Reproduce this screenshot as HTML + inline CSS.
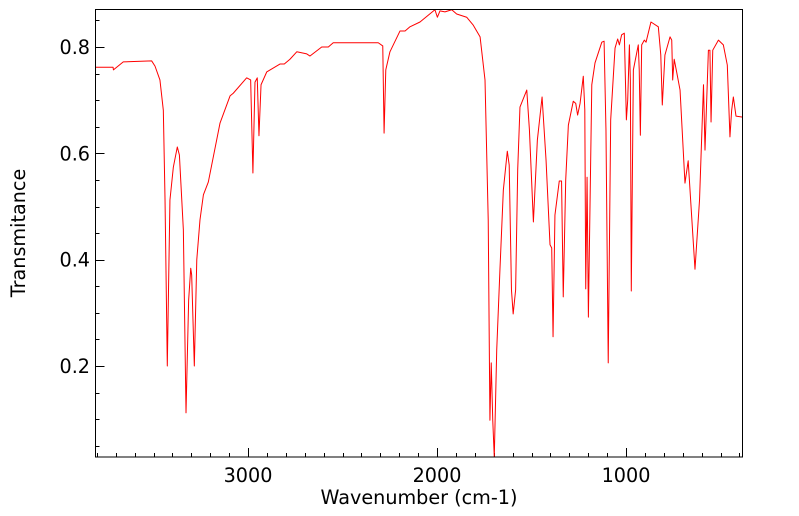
<!DOCTYPE html>
<html><head><meta charset="utf-8"><style>
html,body{margin:0;padding:0;background:#fff;}
svg{display:block;font-family:"DejaVu Sans","Liberation Sans",sans-serif;}
</style></head><body>
<svg id="chart" width="799" height="516" viewBox="0 0 799 516">
<rect x="0" y="0" width="799" height="516" fill="#fff"/>
<g id="ticks"></g>
<path id="line" fill="none" stroke="#ff0000" stroke-width="1" stroke-linejoin="round"/>
<rect x="95.5" y="9.5" width="647" height="447.5" fill="none" stroke="#000" stroke-width="1"/>
<text x="419" y="504" font-size="19.2" text-anchor="middle">Wavenumber (cm-1)</text>
<text x="0" y="0" font-size="19.2" text-anchor="middle" transform="translate(25,233) rotate(-90)">Transmitance</text>
</svg>
<script>
const wavenumbers=[3809,3714,3712,3660,3510,3492,3466,3448,3439,3427,3413,3395,3374,3363,3342,3328,3314,3303,3298,3284,3271,3254,3236,3210,3148,3095,3078,3007,2986,2974,2963,2951,2942,2931,2901,2831,2808,2778,2742,2689,2672,2610,2575,2549,2311,2287,2280,2271,2249,2196,2169,2143,2090,2011,1998,1984,1958,1922,1896,1843,1808,1772,1746,1729,1720,1713,1705,1697,1684,1667,1649,1628,1618,1606,1597,1584,1573,1561,1525,1511,1490,1469,1444,1423,1402,1393,1386,1376,1353,1341,1332,1319,1305,1279,1266,1256,1243,1226,1218,1213,1206,1199,1190,1181,1164,1128,1116,1106,1094,1081,1058,1044,1035,1023,1009,998,991,982,977,972,961,935,930,924,917,903,894,868,829,816,808,794,767,758,753,745,732,714,688,671,658,635,611,590,582,564,556,550,541,511,485,464,450,441,432,418,383];
const transmittance=[0.762,0.762,0.757,0.772,0.774,0.764,0.738,0.681,0.512,0.2,0.512,0.574,0.612,0.597,0.456,0.112,0.324,0.384,0.371,0.2,0.4,0.475,0.522,0.546,0.657,0.708,0.713,0.742,0.738,0.563,0.734,0.742,0.633,0.729,0.753,0.768,0.768,0.777,0.791,0.787,0.783,0.8,0.8,0.808,0.808,0.802,0.638,0.757,0.791,0.83,0.83,0.838,0.847,0.87,0.856,0.868,0.866,0.87,0.862,0.856,0.841,0.819,0.738,0.475,0.098,0.206,0.098,0.029,0.23,0.381,0.531,0.604,0.578,0.343,0.298,0.343,0.569,0.687,0.719,0.644,0.471,0.625,0.706,0.587,0.428,0.422,0.255,0.484,0.548,0.548,0.33,0.55,0.653,0.698,0.694,0.672,0.694,0.745,0.682,0.345,0.555,0.292,0.512,0.729,0.77,0.809,0.811,0.644,0.206,0.663,0.798,0.815,0.804,0.823,0.826,0.663,0.7,0.804,0.738,0.341,0.757,0.804,0.757,0.634,0.804,0.813,0.809,0.847,0.838,0.785,0.691,0.785,0.819,0.813,0.738,0.777,0.753,0.719,0.544,0.586,0.512,0.382,0.512,0.729,0.606,0.794,0.794,0.659,0.794,0.813,0.804,0.766,0.631,0.681,0.706,0.67,0.668];
const xTickLabels=[3000,2000,1000];
const yTickLabels=[0.2,0.4,0.6,0.8];

const NS="http://www.w3.org/2000/svg";
const L=95.5,R=742.5,T=9.5,B=457;
function xs(w){return 248+(3000-w)*0.189;}
function ys(v){return 47+(0.8-v)*531.7;}
let d="";
for(let i=0;i<wavenumbers.length;i++){d+=(i?"L":"M")+xs(wavenumbers[i]).toFixed(2)+","+ys(transmittance[i]).toFixed(2);}
document.getElementById("line").setAttribute("d",d);
const g=document.getElementById("ticks");
function line(x1,y1,x2,y2,name){const l=document.createElementNS(NS,"line");
l.setAttribute("x1",x1);l.setAttribute("y1",y1);l.setAttribute("x2",x2);l.setAttribute("y2",y2);
l.setAttribute("stroke","#000");l.setAttribute("stroke-width","1");


g.appendChild(l);}
function text(x,y,s,anchor,name){const t=document.createElementNS(NS,"text");
t.setAttribute("x",x);t.setAttribute("y",y);t.setAttribute("font-size","19.2");t.setAttribute("text-anchor",anchor);t.textContent=s;


g.appendChild(t);}
for(let w=3800;w>=400;w-=100){const x=Math.round(xs(w))+0.5;const major=w%1000===0;line(x,B,x,B-(major?9:4),major?"x-major-tick":"x-minor-tick");}
for(let v=0.05;v<0.87;v+=0.05){const y=Math.round(ys(v))+0.5;const major=Math.abs(v*10-Math.round(v*10))<1e-6&&Math.round(v*10)%2===0;line(L,y,L+(major?9:4),y,major?"y-major-tick":"y-minor-tick");}
xTickLabels.forEach(w=>text(xs(w),482,String(w),"middle","x-tick-label"));
yTickLabels.forEach(v=>text(90,ys(v)+7,v.toFixed(1),"end","y-tick-label"));
</script>
</body></html>
